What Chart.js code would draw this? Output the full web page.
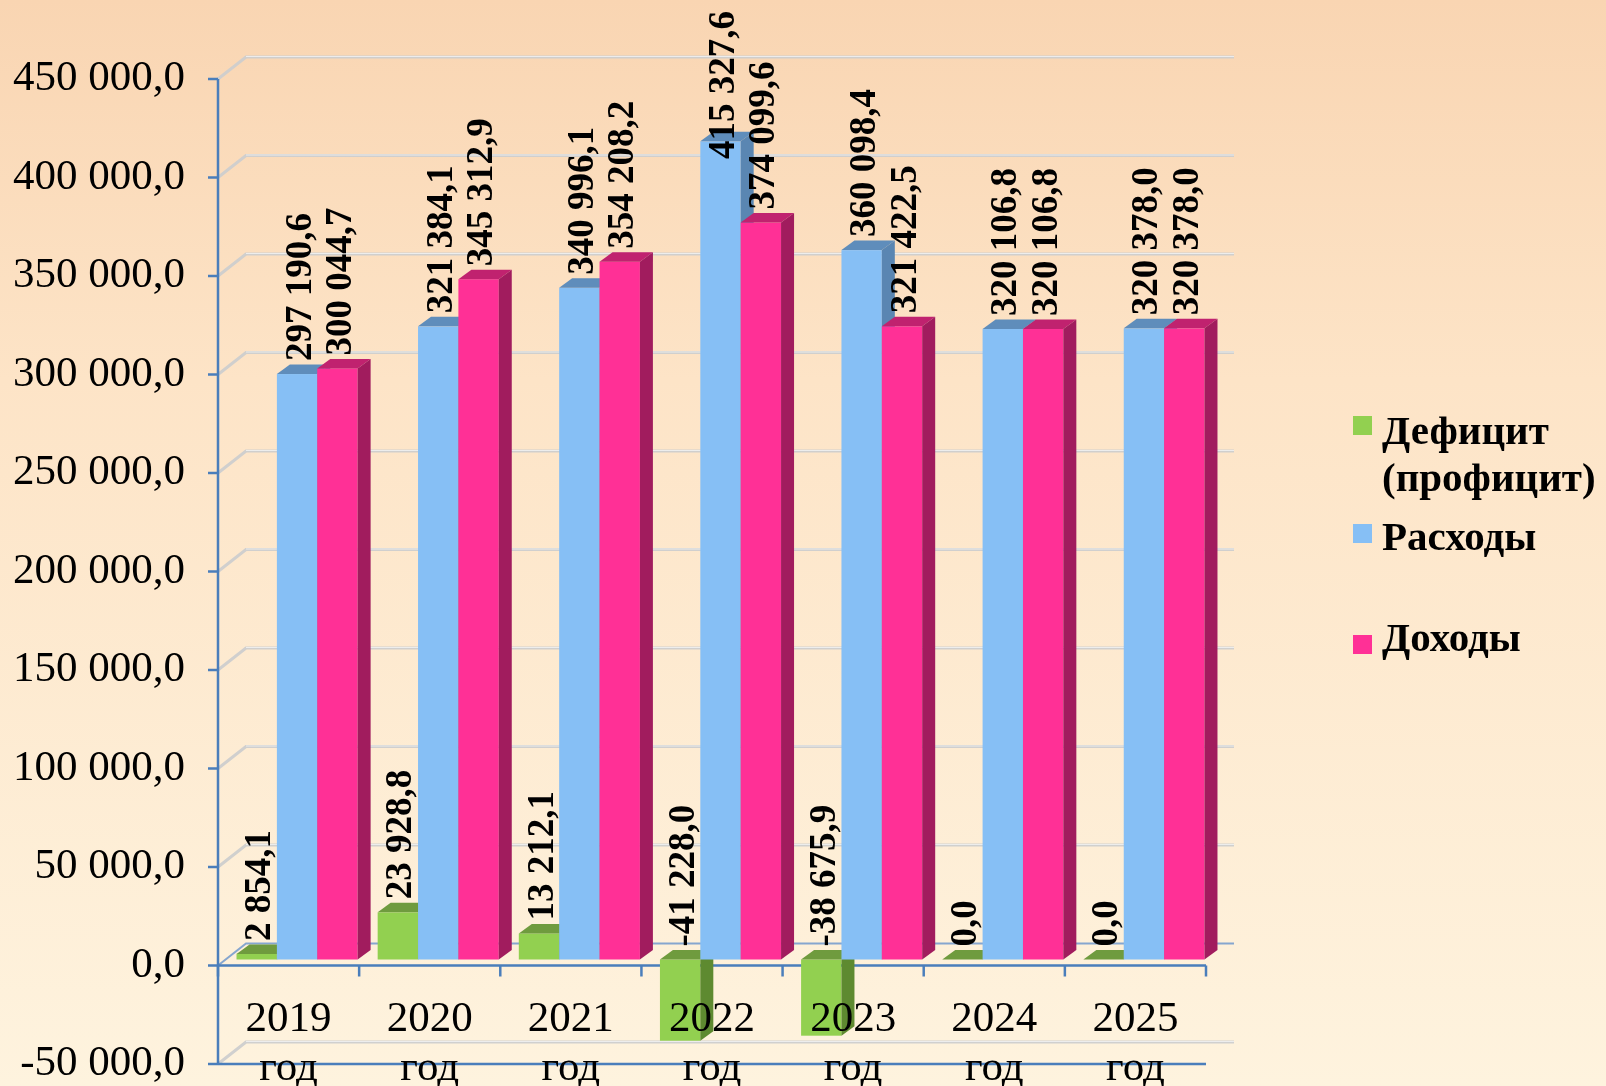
<!DOCTYPE html>
<html>
<head>
<meta charset="utf-8">
<script src="https://cdn.jsdelivr.net/npm/chart.js@4.4.1/dist/chart.umd.min.js"></script>
<style>
  html, body { margin: 0; padding: 0; overflow: hidden; background: #fdeacc; }
  #wrap { width: 1606px; height: 1086px; }
</style>
</head>
<body>
<div id="wrap"><canvas id="budget" width="1606" height="1086"></canvas></div>
<script>
// данные
const years = ['2019', '2020', '2021', '2022', '2023', '2024', '2025'];
const yearSuffix = 'год';
const deficit = [2854.1, 23928.8, 13212.1, -41228.0, -38675.9, 0.0, 0.0];
const expenses = [297190.6, 321384.1, 340996.1, 415327.6, 360098.4, 320106.8, 320378.0];
const incomes = [300044.7, 345312.9, 354208.2, 374099.6, 321422.5, 320106.8, 320378.0];
const seriesNames = ['Дефицит (профицит)', 'Расходы', 'Доходы'];
const legendLines = [['Дефицит', '(профицит)'], ['Расходы'], ['Доходы']];
const yTicks = [-50000, 0, 50000, 100000, 150000, 200000, 250000, 300000, 350000, 400000, 450000];

// цвета: лицо, верх, бок
const faces = [
  ['#92d050', '#6f9b3e', '#5e8a30'],
  ['#86bff5', '#5f8dbb', '#5a86b2'],
  ['#ff3096', '#c0226f', '#a11c5e']
];

const SERIF = "'Liberation Serif', 'Times New Roman', serif";
const DEPTH = { dx: 28, dy: -22 };     // задняя стенка
const SHIFT = { dx: 8.5, dy: -6 };     // смещение столбиков вглубь
const BAR3D = { dx: 13, dy: -9.5 };    // глубина столбика

function fmt(v) {
  const neg = v < 0;
  const parts = Math.abs(v).toFixed(1).split('.');
  const int = parts[0].replace(/\B(?=(\d{3})+(?!\d))/g, ' ');
  return (neg ? '-' : '') + int + ',' + parts[1];
}

const backgroundPlugin = {
  id: 'background',
  beforeDraw(chart) {
    const { ctx, width, height, chartArea, scales: { y } } = chart;
    ctx.save();
    const g = ctx.createLinearGradient(0, 0, 0, height);
    g.addColorStop(0, '#f9d5b2');
    g.addColorStop(0.35, '#fde4c7');
    g.addColorStop(1, '#fef3de');
    ctx.fillStyle = g;
    ctx.fillRect(0, 0, width, height);

    const left = chartArea.left, right = chartArea.right;
    // задняя стенка: линии сетки и диагонали
    yTicks.forEach(v => {
      const py = y.getPixelForValue(v);
      ctx.strokeStyle = v === 0 ? '#86a6cf' : 'rgba(205,205,205,0.95)';
      ctx.lineWidth = v === 0 ? 2 : 3;
      ctx.beginPath();
      ctx.moveTo(left, py);
      ctx.lineTo(left + DEPTH.dx, py + DEPTH.dy);
      ctx.lineTo(right + DEPTH.dx, py + DEPTH.dy);
      ctx.stroke();
      if (v !== 0) {
        ctx.strokeStyle = 'rgba(240,240,240,0.9)';
        ctx.lineWidth = 1;
        ctx.beginPath();
        ctx.moveTo(left + DEPTH.dx, py + DEPTH.dy - 0.5);
        ctx.lineTo(right + DEPTH.dx, py + DEPTH.dy - 0.5);
        ctx.stroke();
      }
    });

    // передние оси
    ctx.strokeStyle = '#4a7ebb';
    ctx.lineWidth = 2.5;
    ctx.beginPath();
    ctx.moveTo(left, y.getPixelForValue(yTicks[0]));
    ctx.lineTo(left, y.getPixelForValue(yTicks[yTicks.length - 1]));
    ctx.stroke();
    yTicks.forEach(v => {
      const py = y.getPixelForValue(v);
      ctx.beginPath();
      ctx.moveTo(left - 10, py);
      ctx.lineTo(left, py);
      ctx.stroke();
    });
    const zero = y.getPixelForValue(0);
    const bottom = y.getPixelForValue(yTicks[0]);
    ctx.beginPath();
    ctx.moveTo(left, zero); ctx.lineTo(right, zero);
    ctx.moveTo(left, bottom); ctx.lineTo(right, bottom);
    ctx.stroke();
    const step = (right - left) / years.length;
    for (let i = 0; i <= years.length; i++) {
      const px = left + i * step;
      ctx.beginPath();
      ctx.moveTo(px, zero); ctx.lineTo(px, zero + 11);
      ctx.stroke();
    }

    // подписи оси Y
    ctx.fillStyle = '#000';
    ctx.font = '43px ' + SERIF;
    ctx.textAlign = 'right';
    ctx.textBaseline = 'middle';
    yTicks.forEach(v => ctx.fillText(fmt(v), 185, y.getPixelForValue(v)));
    ctx.restore();
  }
};

const bars3dPlugin = {
  id: 'bars3d',
  beforeDatasetsDraw(chart) {
    const ctx = chart.ctx;
    ctx.save();
    chart.data.datasets.forEach((ds, di) => {
      const meta = chart.getDatasetMeta(di);
      const col = faces[di];
      meta.data.forEach(el => {
        const p = el.getProps(['x', 'y', 'base', 'width'], true);
        const l = p.x - p.width / 2 + SHIFT.dx;
        const w = p.width;
        const t = Math.min(p.y, p.base) + SHIFT.dy;
        const b = Math.max(p.y, p.base) + SHIFT.dy;
        ctx.fillStyle = col[0];
        ctx.fillRect(l, t, w, b - t);
        ctx.fillStyle = col[1];
        ctx.beginPath();
        ctx.moveTo(l, t);
        ctx.lineTo(l + BAR3D.dx, t + BAR3D.dy);
        ctx.lineTo(l + w + BAR3D.dx, t + BAR3D.dy);
        ctx.lineTo(l + w, t);
        ctx.closePath();
        ctx.fill();
        ctx.fillStyle = col[2];
        ctx.beginPath();
        ctx.moveTo(l + w, t);
        ctx.lineTo(l + w + BAR3D.dx, t + BAR3D.dy);
        ctx.lineTo(l + w + BAR3D.dx, b + BAR3D.dy);
        ctx.lineTo(l + w, b);
        ctx.closePath();
        ctx.fill();
      });
    });
    ctx.restore();
    return false;
  }
};

const labelsPlugin = {
  id: 'labels',
  afterDraw(chart) {
    const { ctx, scales: { x } } = chart;
    ctx.save();
    // значения над столбиками
    ctx.fillStyle = '#000';
    ctx.font = 'bold 37px ' + SERIF;
    ctx.textAlign = 'left';
    ctx.textBaseline = 'middle';
    chart.data.datasets.forEach((ds, di) => {
      const meta = chart.getDatasetMeta(di);
      meta.data.forEach((el, i) => {
        const p = el.getProps(['x', 'y', 'base'], true);
        const txt = fmt(ds.data[i]);
        const tw = ctx.measureText(txt).width;
        let start = Math.min(p.y, p.base) + SHIFT.dy - 13;
        if (start - tw < 11) start = tw + 11;
        ctx.save();
        ctx.translate(p.x + SHIFT.dx + 4, start);
        ctx.rotate(-Math.PI / 2);
        ctx.fillText(txt, 0, 0);
        ctx.restore();
      });
    });

    // подписи категорий
    ctx.font = '43px ' + SERIF;
    ctx.textAlign = 'center';
    ctx.textBaseline = 'alphabetic';
    years.forEach((yr, i) => {
      const px = x.getPixelForValue(i);
      ctx.fillText(yr, px, 1031);
      ctx.fillText(yearSuffix, px, 1080);
    });

    // легенда
    const rows = [[444, 491], [550], [651]];
    const boxes = [416, 524, 635];
    ctx.font = 'bold 41px ' + SERIF;
    ctx.textAlign = 'left';
    legendLines.forEach((lines, di) => {
      ctx.fillStyle = faces[di][0];
      ctx.fillRect(1353, boxes[di], 19, 19);
      ctx.fillStyle = '#000';
      lines.forEach((ln, k) => ctx.fillText(ln, 1382, rows[di][k]));
    });
    ctx.restore();
  }
};

new Chart(document.getElementById('budget'), {
  type: 'bar',
  data: {
    labels: years,
    datasets: [
      { label: seriesNames[0], data: deficit, backgroundColor: faces[0][0] },
      { label: seriesNames[1], data: expenses, backgroundColor: faces[1][0] },
      { label: seriesNames[2], data: incomes, backgroundColor: faces[2][0] }
    ]
  },
  options: {
    responsive: false,
    animation: false,
    devicePixelRatio: 1,
    layout: { padding: { left: 218, top: 79, right: 400, bottom: 22 } },
    datasets: { bar: { categoryPercentage: 0.858, barPercentage: 1 } },
    scales: {
      x: { display: false },
      y: { display: false, min: -50000, max: 450000, ticks: { stepSize: 50000 } }
    },
    plugins: { legend: { display: false }, tooltip: { enabled: false } }
  },
  plugins: [backgroundPlugin, bars3dPlugin, labelsPlugin]
});
</script>
</body>
</html>
